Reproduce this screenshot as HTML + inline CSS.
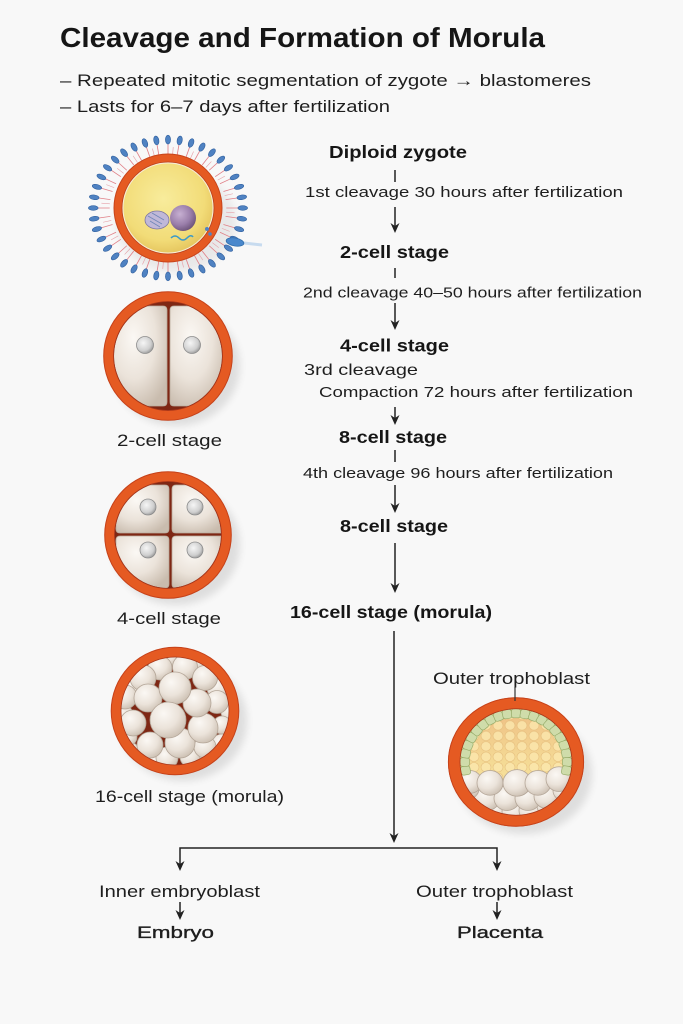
<!DOCTYPE html>
<html><head><meta charset="utf-8">
<style>
html,body{margin:0;padding:0;background:#f8f8f8;}
svg{display:block;}
text{font-family:"Liberation Sans",Arial,sans-serif;fill:#1e1e1e;}
.b{font-weight:bold;fill:#161616;}
</style></head><body>
<svg width="683" height="1024" viewBox="0 0 683 1024" xmlns="http://www.w3.org/2000/svg">
<defs>
  <radialGradient id="cellG" cx="38%" cy="32%" r="75%">
    <stop offset="0" stop-color="#fbf8f4"/>
    <stop offset="0.55" stop-color="#ebe3da"/>
    <stop offset="1" stop-color="#c9bcae"/>
  </radialGradient>
  <radialGradient id="nucG" cx="40%" cy="38%" r="65%">
    <stop offset="0" stop-color="#f6f6f6"/>
    <stop offset="0.7" stop-color="#cfcfcf"/>
    <stop offset="1" stop-color="#9a9a9a"/>
  </radialGradient>
  <radialGradient id="yolkG" cx="45%" cy="40%" r="65%">
    <stop offset="0" stop-color="#f8ec9c"/>
    <stop offset="0.7" stop-color="#f2dc78"/>
    <stop offset="1" stop-color="#e2c058"/>
  </radialGradient>
  <radialGradient id="purpG" cx="38%" cy="35%" r="70%">
    <stop offset="0" stop-color="#c7b0d2"/>
    <stop offset="0.6" stop-color="#9a7eaa"/>
    <stop offset="1" stop-color="#6b5278"/>
  </radialGradient>
  <linearGradient id="blastG" x1="0" y1="0" x2="0" y2="1">
    <stop offset="0" stop-color="#eebf84"/>
    <stop offset="0.55" stop-color="#f5dc96"/>
    <stop offset="1" stop-color="#f8e8a4"/>
  </linearGradient>
  <pattern id="bub" width="12" height="11" patternUnits="userSpaceOnUse">
    <circle cx="6" cy="5.5" r="5" fill="#fbe7ae" stroke="#e2b978" stroke-width="0.6" opacity="0.8"/>
  </pattern>
  <filter id="blur" x="-30%" y="-30%" width="160%" height="160%"><feGaussianBlur stdDeviation="4"/></filter>
  <clipPath id="c2"><circle cx="168" cy="356" r="54"/></clipPath>
  <clipPath id="c4"><circle cx="168" cy="535" r="53"/></clipPath>
  <clipPath id="cm"><circle cx="175" cy="711" r="54"/></clipPath>
  <clipPath id="cb"><circle cx="0" cy="0" r="56"/></clipPath>
  <g id="cor">
    <line x1="0" y1="-55" x2="0" y2="-66" stroke="#e08088" stroke-width="0.8"/>
    <ellipse cx="0" cy="-70.5" rx="2.4" ry="4.6" fill="#4f82c2" stroke="#2f5f9e" stroke-width="0.6"/>
  </g>
  <g id="cor2">
    <line x1="0" y1="-55" x2="0" y2="-63" stroke="#e6a0a8" stroke-width="0.6"/>
  </g>
  <rect id="tro" x="-4.6" y="-56" width="9.2" height="9.5" rx="2.6" fill="#cfdcaa" stroke="#97ac6a" stroke-width="0.7"/>
</defs>

<rect width="683" height="1024" fill="#f8f8f8"/>

<!-- Title & bullets -->
<text class="b" x="60" y="47" font-size="28" textLength="485" lengthAdjust="spacingAndGlyphs">Cleavage and Formation of Morula</text>
<text x="60" y="86" font-size="17" textLength="531" lengthAdjust="spacingAndGlyphs">– Repeated mitotic segmentation of zygote → blastomeres</text>
<text x="60" y="112" font-size="17" textLength="330" lengthAdjust="spacingAndGlyphs">– Lasts for 6–7 days after fertilization</text>

<!-- ========== ZYGOTE ========== -->
<ellipse cx="176" cy="222" rx="60" ry="50" fill="#000" opacity="0.06" filter="url(#blur)"/>
<g transform="translate(168,208) scale(1.06,0.97)">
  <use href="#cor" transform="rotate(0)"/><use href="#cor" transform="rotate(9)"/><use href="#cor" transform="rotate(18)"/><use href="#cor" transform="rotate(27)"/><use href="#cor" transform="rotate(36)"/><use href="#cor" transform="rotate(45)"/><use href="#cor" transform="rotate(54)"/><use href="#cor" transform="rotate(63)"/><use href="#cor" transform="rotate(72)"/><use href="#cor" transform="rotate(81)"/><use href="#cor" transform="rotate(90)"/><use href="#cor" transform="rotate(99)"/><use href="#cor" transform="rotate(108)"/><use href="#cor" transform="rotate(117)"/><use href="#cor" transform="rotate(126)"/><use href="#cor" transform="rotate(135)"/><use href="#cor" transform="rotate(144)"/><use href="#cor" transform="rotate(153)"/><use href="#cor" transform="rotate(162)"/><use href="#cor" transform="rotate(171)"/><use href="#cor" transform="rotate(180)"/><use href="#cor" transform="rotate(189)"/><use href="#cor" transform="rotate(198)"/><use href="#cor" transform="rotate(207)"/><use href="#cor" transform="rotate(216)"/><use href="#cor" transform="rotate(225)"/><use href="#cor" transform="rotate(234)"/><use href="#cor" transform="rotate(243)"/><use href="#cor" transform="rotate(252)"/><use href="#cor" transform="rotate(261)"/><use href="#cor" transform="rotate(270)"/><use href="#cor" transform="rotate(279)"/><use href="#cor" transform="rotate(288)"/><use href="#cor" transform="rotate(297)"/><use href="#cor" transform="rotate(306)"/><use href="#cor" transform="rotate(315)"/><use href="#cor" transform="rotate(324)"/><use href="#cor" transform="rotate(333)"/><use href="#cor" transform="rotate(342)"/><use href="#cor" transform="rotate(351)"/>
  <use href="#cor2" transform="rotate(4.5)"/><use href="#cor2" transform="rotate(22.5)"/><use href="#cor2" transform="rotate(40.5)"/><use href="#cor2" transform="rotate(58.5)"/><use href="#cor2" transform="rotate(76.5)"/><use href="#cor2" transform="rotate(94.5)"/><use href="#cor2" transform="rotate(112.5)"/><use href="#cor2" transform="rotate(130.5)"/><use href="#cor2" transform="rotate(148.5)"/><use href="#cor2" transform="rotate(166.5)"/><use href="#cor2" transform="rotate(184.5)"/><use href="#cor2" transform="rotate(202.5)"/><use href="#cor2" transform="rotate(220.5)"/><use href="#cor2" transform="rotate(238.5)"/><use href="#cor2" transform="rotate(256.5)"/><use href="#cor2" transform="rotate(274.5)"/><use href="#cor2" transform="rotate(292.5)"/><use href="#cor2" transform="rotate(310.5)"/><use href="#cor2" transform="rotate(328.5)"/><use href="#cor2" transform="rotate(346.5)"/>
</g>
<circle cx="168" cy="208" r="45" fill="url(#yolkG)"/>
<circle cx="168" cy="208" r="45.5" fill="none" stroke="#f7ecd4" stroke-width="2"/>
<circle cx="168" cy="208" r="50" fill="none" stroke="#e55a22" stroke-width="8"/>
<circle cx="168" cy="208" r="54" fill="none" stroke="#c7441a" stroke-width="1"/>
<circle cx="168" cy="208" r="46" fill="none" stroke="#b8401c" stroke-width="0.8"/>
<ellipse cx="157" cy="220" rx="12" ry="9" fill="#c0b8d8" stroke="#7d76a2" stroke-width="0.8"/>
<path d="M148,216 L162,224 M150,221 L160,227 M152,213 L164,220" stroke="#6f86b8" stroke-width="0.8" fill="none"/>
<circle cx="183" cy="218" r="13" fill="url(#purpG)"/>
<path d="M171,238 q4,-4 8,0 t8,0 t6,-1" stroke="#3c9ac8" stroke-width="1.5" fill="none"/>
<circle cx="207" cy="229" r="2" fill="#4f82c2"/><circle cx="210" cy="234" r="1.8" fill="#4f82c2"/>
<path d="M244,243 L262,245" stroke="#bcd4ee" stroke-width="3" opacity="0.8"/>
<ellipse cx="235" cy="242" rx="9" ry="4" fill="#4a88cc" stroke="#2c6aa8" stroke-width="0.7" transform="rotate(10 235 242)"/>

<!-- ========== 2-CELL ========== -->
<ellipse cx="176" cy="366" rx="64" ry="60" fill="#000" opacity="0.10" filter="url(#blur)"/>
<circle cx="168" cy="356" r="56" fill="#7e2714"/>
<g clip-path="url(#c2)">
  <path d="M167,310 Q167,306 163,306 L150,306 Q113,308 113,356 Q113,404 150,406 L163,406 Q167,406 167,402 Z" fill="url(#cellG)" stroke="#b9ab9c" stroke-width="0.8"/>
  <path d="M170,310 Q170,306 174,306 L187,306 Q224,308 224,356 Q224,404 187,406 L174,406 Q170,406 170,402 Z" fill="url(#cellG)" stroke="#b9ab9c" stroke-width="0.8"/>
</g>
<circle cx="145" cy="345" r="8.5" fill="url(#nucG)" stroke="#8d8d8d" stroke-width="0.8"/>
<circle cx="192" cy="345" r="8.5" fill="url(#nucG)" stroke="#8d8d8d" stroke-width="0.8"/>
<circle cx="168" cy="356" r="59.5" fill="none" stroke="#e55a22" stroke-width="10"/>
<circle cx="168" cy="356" r="64.3" fill="none" stroke="#c6421a" stroke-width="1"/>
<circle cx="168" cy="356" r="54.5" fill="none" stroke="#a8361a" stroke-width="0.8"/>
<text x="117" y="446" font-size="17" textLength="105" lengthAdjust="spacingAndGlyphs">2-cell stage</text>

<!-- ========== 4-CELL ========== -->
<ellipse cx="176" cy="545" rx="64" ry="60" fill="#000" opacity="0.10" filter="url(#blur)"/>
<circle cx="168" cy="535" r="55" fill="#7e2714"/>
<g clip-path="url(#c4)">
  <path d="M169,489 Q169,485 165,485 L142,485 Q116,487 116,513 L116,529 Q116,533 120,533 L165,533 Q169,533 169,529 Z" fill="url(#cellG)" stroke="#b9ab9c" stroke-width="0.8"/>
  <path d="M172,489 Q172,485 176,485 L199,485 Q225,487 225,513 L225,529 Q225,533 221,533 L176,533 Q172,533 172,529 Z" fill="url(#cellG)" stroke="#b9ab9c" stroke-width="0.8"/>
  <path d="M169,540 Q169,536 165,536 L120,536 Q116,536 116,540 L116,560 Q118,588 144,588 L165,588 Q169,588 169,584 Z" fill="url(#cellG)" stroke="#b9ab9c" stroke-width="0.8"/>
  <path d="M172,540 Q172,536 176,536 L221,536 Q225,536 225,540 L225,560 Q223,588 197,588 L176,588 Q172,588 172,584 Z" fill="url(#cellG)" stroke="#b9ab9c" stroke-width="0.8"/>
</g>
<circle cx="148" cy="507" r="8" fill="url(#nucG)" stroke="#8d8d8d" stroke-width="0.8"/>
<circle cx="195" cy="507" r="8" fill="url(#nucG)" stroke="#8d8d8d" stroke-width="0.8"/>
<circle cx="148" cy="550" r="8" fill="url(#nucG)" stroke="#8d8d8d" stroke-width="0.8"/>
<circle cx="195" cy="550" r="8" fill="url(#nucG)" stroke="#8d8d8d" stroke-width="0.8"/>
<circle cx="168" cy="535" r="58.5" fill="none" stroke="#e55a22" stroke-width="10"/>
<circle cx="168" cy="535" r="63.3" fill="none" stroke="#c6421a" stroke-width="1"/>
<circle cx="168" cy="535" r="53.5" fill="none" stroke="#a8361a" stroke-width="0.8"/>
<text x="117" y="624" font-size="17" textLength="104" lengthAdjust="spacingAndGlyphs">4-cell stage</text>

<!-- ========== MORULA ========== -->
<ellipse cx="183" cy="721" rx="64" ry="60" fill="#000" opacity="0.10" filter="url(#blur)"/>
<circle cx="175" cy="711" r="56" fill="#7e2714"/>
<g clip-path="url(#cm)" stroke="#b3a597" stroke-width="0.8" fill="url(#cellG)">
  <circle cx="122" cy="715" r="11"/>
  <circle cx="128" cy="752" r="11"/>
  <circle cx="222" cy="745" r="11"/>
  <circle cx="158" cy="764" r="10"/>
  <circle cx="200" cy="763" r="10"/>
  <circle cx="230" cy="712" r="9"/>
  <circle cx="170" cy="656" r="10"/>
  <circle cx="198" cy="660" r="10"/>
  <circle cx="134" cy="688" r="11"/>
  <circle cx="218" cy="688" r="11"/>
  <circle cx="128" cy="737" r="9"/>
  <circle cx="222" cy="725" r="9"/>
  <circle cx="167" cy="758" r="11"/>
  <circle cx="190" cy="757" r="10"/>
  <circle cx="205" cy="747" r="11"/>
  <circle cx="217" cy="702" r="11.5"/>
  <circle cx="125" cy="697" r="12"/>
  <circle cx="160" cy="668" r="12"/>
  <circle cx="185" cy="667" r="12.5"/>
  <circle cx="143" cy="678" r="13"/>
  <circle cx="205" cy="678" r="12.5"/>
  <circle cx="133" cy="723" r="13"/>
  <circle cx="150" cy="745" r="13"/>
  <circle cx="180" cy="743" r="15"/>
  <circle cx="203" cy="728" r="15"/>
  <circle cx="148" cy="698" r="14"/>
  <circle cx="197" cy="703" r="14"/>
  <circle cx="175" cy="688" r="16"/>
  <circle cx="168" cy="720" r="18"/>
</g>
<circle cx="175" cy="711" r="59" fill="none" stroke="#e55a22" stroke-width="10"/>
<circle cx="175" cy="711" r="63.8" fill="none" stroke="#c6421a" stroke-width="1"/>
<circle cx="175" cy="711" r="54" fill="none" stroke="#a8361a" stroke-width="0.8"/>
<text x="95" y="802" font-size="17" textLength="189" lengthAdjust="spacingAndGlyphs">16-cell stage (morula)</text>

<!-- ========== BLASTOCYST ========== -->
<ellipse cx="524" cy="774" rx="68" ry="60" fill="#000" opacity="0.10" filter="url(#blur)"/>
<g transform="translate(516,762) scale(1,0.95)">
  <circle cx="0" cy="0" r="57" fill="#8a2e16"/>
  <circle cx="0" cy="0" r="56" fill="url(#blastG)"/>
  <circle cx="0" cy="0" r="50" fill="url(#bub)"/>
  <g clip-path="url(#cb)" stroke="#b3a597" stroke-width="0.8" fill="url(#cellG)">
    <circle cx="-19" cy="50" r="11"/>
    <circle cx="-2" cy="52" r="12"/>
    <circle cx="15" cy="51" r="12"/>
    <circle cx="32" cy="46" r="11"/>
    <circle cx="-34" cy="44" r="11"/>
    <circle cx="-29" cy="38" r="13"/>
    <circle cx="-9" cy="38" r="13"/>
    <circle cx="12" cy="38" r="13"/>
    <circle cx="31" cy="36" r="13"/>
    <circle cx="48" cy="30" r="11"/>
    <circle cx="-48" cy="28" r="11"/>
    <circle cx="-46" cy="21" r="12"/>
    <circle cx="-26" cy="22" r="13"/>
    <circle cx="1" cy="22" r="14"/>
    <circle cx="22" cy="22" r="13"/>
    <circle cx="43" cy="18" r="13"/>
  </g>
  <use href="#tro" transform="rotate(-100)"/><use href="#tro" transform="rotate(-90)"/><use href="#tro" transform="rotate(-80)"/><use href="#tro" transform="rotate(-70)"/><use href="#tro" transform="rotate(-60)"/><use href="#tro" transform="rotate(-50)"/><use href="#tro" transform="rotate(-40)"/><use href="#tro" transform="rotate(-30)"/><use href="#tro" transform="rotate(-20)"/><use href="#tro" transform="rotate(-10)"/><use href="#tro" transform="rotate(0)"/><use href="#tro" transform="rotate(10)"/><use href="#tro" transform="rotate(20)"/><use href="#tro" transform="rotate(30)"/><use href="#tro" transform="rotate(40)"/><use href="#tro" transform="rotate(50)"/><use href="#tro" transform="rotate(60)"/><use href="#tro" transform="rotate(70)"/><use href="#tro" transform="rotate(80)"/><use href="#tro" transform="rotate(90)"/><use href="#tro" transform="rotate(100)"/>
  <circle cx="0" cy="0" r="62" fill="none" stroke="#e55a22" stroke-width="12"/>
  <circle cx="0" cy="0" r="67.6" fill="none" stroke="#c6421a" stroke-width="1"/>
  <circle cx="0" cy="0" r="56" fill="none" stroke="#a8361a" stroke-width="0.8"/>
</g>
<line x1="515" y1="687" x2="515" y2="701" stroke="#333" stroke-width="1.2"/>
<text x="433" y="684" font-size="17" textLength="157" lengthAdjust="spacingAndGlyphs">Outer trophoblast</text>

<!-- ========== FLOW (right column) ========== -->
<g stroke="#222" stroke-width="1.5" fill="none">
  <line x1="395" y1="170" x2="395" y2="182"/>
  <line x1="395" y1="207" x2="395" y2="230"/>
  <line x1="395" y1="268" x2="395" y2="278"/>
  <line x1="395" y1="303" x2="395" y2="327"/>
  <line x1="395" y1="407" x2="395" y2="422"/>
  <line x1="395" y1="450" x2="395" y2="462"/>
  <line x1="395" y1="485" x2="395" y2="510"/>
  <line x1="395" y1="543" x2="395" y2="590"/>
  <line x1="394" y1="631" x2="394" y2="840"/>
  <polyline points="180,868 180,848 497,848 497,868"/>
  <line x1="180" y1="902" x2="180" y2="917"/>
  <line x1="497" y1="902" x2="497" y2="917"/>
</g>
<g fill="#222">
  <path d="M390.5,223 L395,233 L399.5,223 L395,226 Z"/>
  <path d="M390.5,320 L395,330 L399.5,320 L395,323 Z"/>
  <path d="M390.5,415 L395,425 L399.5,415 L395,418 Z"/>
  <path d="M390.5,503 L395,513 L399.5,503 L395,506 Z"/>
  <path d="M390.5,583 L395,593 L399.5,583 L395,586 Z"/>
  <path d="M389.5,833 L394,843 L398.5,833 L394,836 Z"/>
  <path d="M175.5,861 L180,871 L184.5,861 L180,864 Z"/>
  <path d="M492.5,861 L497,871 L501.5,861 L497,864 Z"/>
  <path d="M175.5,910 L180,920 L184.5,910 L180,913 Z"/>
  <path d="M492.5,910 L497,920 L501.5,910 L497,913 Z"/>
</g>

<text class="b" x="329" y="158" font-size="17.5" textLength="138" lengthAdjust="spacingAndGlyphs">Diploid zygote</text>
<text x="305" y="197" font-size="15" textLength="318" lengthAdjust="spacingAndGlyphs">1st cleavage 30 hours after fertilization</text>
<text class="b" x="340" y="258" font-size="17.5" textLength="109" lengthAdjust="spacingAndGlyphs">2-cell stage</text>
<text x="303" y="297.5" font-size="15" textLength="339" lengthAdjust="spacingAndGlyphs">2nd cleavage 40–50 hours after fertilization</text>
<text class="b" x="340" y="351.5" font-size="17.5" textLength="109" lengthAdjust="spacingAndGlyphs">4-cell stage</text>
<text x="304" y="375" font-size="16" textLength="114" lengthAdjust="spacingAndGlyphs">3rd cleavage</text>
<text x="319" y="397" font-size="15" textLength="314" lengthAdjust="spacingAndGlyphs">Compaction 72 hours after fertilization</text>
<text class="b" x="339" y="443" font-size="17.5" textLength="108" lengthAdjust="spacingAndGlyphs">8-cell stage</text>
<text x="303" y="478" font-size="15" textLength="310" lengthAdjust="spacingAndGlyphs">4th cleavage 96 hours after fertilization</text>
<text class="b" x="340" y="532" font-size="17.5" textLength="108" lengthAdjust="spacingAndGlyphs">8-cell stage</text>
<text class="b" x="290" y="618" font-size="17.5" textLength="202" lengthAdjust="spacingAndGlyphs">16-cell stage (morula)</text>

<text x="99" y="897" font-size="17" textLength="161" lengthAdjust="spacingAndGlyphs">Inner embryoblast</text>
<text x="416" y="897" font-size="17" textLength="157" lengthAdjust="spacingAndGlyphs">Outer trophoblast</text>
<text x="137" y="938" font-size="17" textLength="77" lengthAdjust="spacingAndGlyphs" stroke="#1e1e1e" stroke-width="0.35">Embryo</text>
<text x="457" y="938" font-size="17" textLength="86" lengthAdjust="spacingAndGlyphs" stroke="#1e1e1e" stroke-width="0.35">Placenta</text>
</svg>
</body></html>
